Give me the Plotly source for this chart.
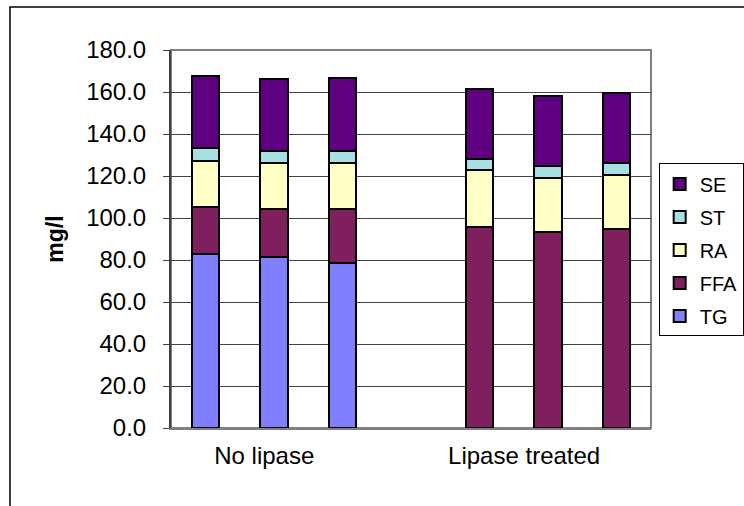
import plotly.graph_objects as go

# ---- data ----
bar_positions = [0, 1, 2, 4, 5, 6]          # 3 replicates per group, empty slot between groups
group_labels = ["No lipase", "Lipase treated"]
series_names = ["TG", "FFA", "RA", "ST", "SE"]
TG = [82.9, 81.2, 78.7, 0.0, 0.0, 0.0]
FFA = [22.3, 23.3, 25.4, 95.6, 93.4, 94.8]
RA = [21.8, 21.9, 22.1, 27.1, 25.8, 25.7]
ST = [6.1, 5.4, 5.8, 5.4, 5.8, 5.7]
SE = [34.6, 34.5, 34.6, 33.2, 33.1, 33.4]
y_ticks = [0, 20, 40, 60, 80, 100, 120, 140, 160, 180]

series_values = [TG, FFA, RA, ST, SE]
colors = ["#8080FF", "#801F5E", "#FFFFC6", "#A6E0E0", "#5F0080"]

FONT = "Arial, Liberation Sans, sans-serif"

fig = go.Figure()
n = len(series_names)
for i, (name, vals, col) in enumerate(zip(series_names, series_values, colors)):
    fig.add_trace(go.Bar(
        x=bar_positions, y=vals, name=name, legendgroup=name,
        legendrank=n - i,
        marker=dict(color=col, line=dict(color="black", width=2)),
    ))

# label positions (in slot units) under each group
label_pos = [0.86, 4.65]

fig.update_layout(
    width=744, height=506,
    barmode="stack", bargap=0.6,
    margin=dict(l=171, r=93, t=50, b=78, pad=0, autoexpand=False),
    paper_bgcolor="white", plot_bgcolor="white",
    font=dict(family=FONT, color="black", size=24),
    showlegend=True,
    legend=dict(
        x=1.016, y=0.70, xanchor="left", yanchor="top",
        traceorder="grouped",
        font=dict(family=FONT, size=20, color="black"),
        bordercolor="#000000", borderwidth=1, bgcolor="white",
        itemwidth=30, tracegroupgap=4,
    ),
    xaxis=dict(
        range=[-0.5, 6.5],
        tickvals=label_pos, ticktext=group_labels,
        ticks="", showgrid=False, zeroline=False,
        showline=True, linecolor="#808080", linewidth=2,
        tickfont=dict(family=FONT, size=24, color="black"),
        ticklabelstandoff=5,
    ),
    yaxis=dict(
        range=[0, 180], tickvals=y_ticks, tickformat=".1f",
        ticks="outside", ticklen=6, tickcolor="#404040", tickwidth=1,
        showgrid=True, gridcolor="#444444", gridwidth=1,
        zeroline=False,
        showline=True, linecolor="#404040", linewidth=2,
        tickfont=dict(family=FONT, size=24, color="black"),
        ticklabelstandoff=12,
        title=dict(text="<b>mg/l</b>", font=dict(family=FONT, size=23, color="black"), standoff=16),
    ),
    shapes=[
        # plot-area border (top/right gray)
        dict(type="rect", xref="paper", yref="paper", x0=0, y0=0, x1=1, y1=1,
             line=dict(color="#808080", width=2), layer="below"),
        # outer chart frame
        dict(type="rect", xref="paper", yref="paper",
             x0=-0.3354, y0=-0.3, x1=1.3, y1=1.114,
             line=dict(color="black", width=1.5), layer="below"),
    ],
)

fig.write_html("out.html")
